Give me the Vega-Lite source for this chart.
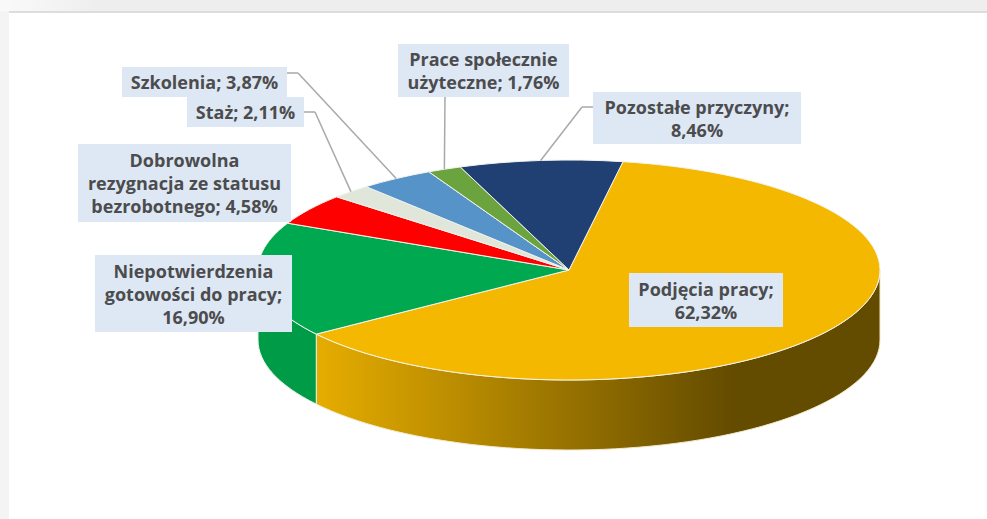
{
"$schema":"https://vega.github.io/schema/vega-lite/v6.json",
"width":987,"height":519,"padding":0,"autosize":{"type":"fit","contains":"padding"},
"background":"#ffffff",
"config":{"view":{"stroke":null}},
"data":{"values":[
{"order":0,"name":"Podjęcia pracy","value":62.32,"label":"Podjęcia pracy;\n62,32%"},
{"order":1,"name":"Niepotwierdzenia gotowości do pracy","value":16.90,"label":"Niepotwierdzenia\ngotowości do pracy;\n16,90%"},
{"order":2,"name":"Dobrowolna rezygnacja ze statusu bezrobotnego","value":4.58,"label":"Dobrowolna\nrezygnacja ze statusu\nbezrobotnego; 4,58%"},
{"order":3,"name":"Staż","value":2.11,"label":"Staż; 2,11%"},
{"order":4,"name":"Szkolenia","value":3.87,"label":"Szkolenia; 3,87%"},
{"order":5,"name":"Prace społecznie użyteczne","value":1.76,"label":"Prace społecznie\nużyteczne; 1,76%"},
{"order":6,"name":"Pozostałe przyczyny","value":8.46,"label":"Pozostałe przyczyny;\n8,46%"}
]},
"transform":[
{"stack":"value","offset":"zero","sort":[{"field":"order","order":"ascending"}],"as":["v0","v1"]},
{"calculate":"(10+datum.v0*3.6)*PI/180","as":"t0"},
{"calculate":"(10+datum.v1*3.6)*PI/180","as":"t1"},
{"calculate":"(datum.t0+datum.t1)/2","as":"tm"},
{"calculate":"'M0,0L'+round(311*sin(datum.t0)*100)/100+','+round(-110*cos(datum.t0)*100)/100+'A311,110,0,'+(datum.t1-datum.t0>PI?1:0)+',1,'+round(311*sin(datum.t1)*100)/100+','+round(-110*cos(datum.t1)*100)/100+'Z'","as":"wedge"},
{"calculate":"max(datum.t0,PI/2)","as":"c0"},
{"calculate":"min(datum.t1,3*PI/2)","as":"c1"},
{"calculate":"'M'+round(311*sin(datum.c0)*100)/100+','+round(-110*cos(datum.c0)*100)/100+'A311,110,0,0,1,'+round(311*sin(datum.c1)*100)/100+','+round(-110*cos(datum.c1)*100)/100+'L'+round(311*sin(datum.c1)*100)/100+','+round((70-110*cos(datum.c1))*100)/100+'A311,110,0,0,0,'+round(311*sin(datum.c0)*100)/100+','+round((70-110*cos(datum.c0))*100)/100+'Z'","as":"rim"},
{"calculate":"569+311*sin(datum.tm)","as":"ex"},
{"calculate":"270-110*cos(datum.tm)","as":"ey"},
{"calculate":"[[629,783,273,327],[95,292,255,332],[78,291,144,222],[187,304,97,127],[122,287,67,97],[398,569,44,97],[593,801,92,144]][datum.order]","as":"box"},
{"calculate":"datum.box[0]","as":"bx0"},
{"calculate":"datum.box[1]","as":"bx1"},
{"calculate":"datum.box[2]","as":"by0"},
{"calculate":"datum.box[3]","as":"by1"},
{"calculate":"(datum.bx0+datum.bx1)/2","as":"bxc"},
{"calculate":"(datum.by0+datum.by1)/2+2-(split(datum.label,'\\n').length-1)*11.5","as":"byc"},
{"calculate":"[null,null,null,[304,112,315],[287,73,298],[445,97,445],[593,107,582]][datum.order]","as":"lead"}
],
"layer":[
{"data":{"values":[{"k":"frame"}]},"mark":{"type":"rect","fill":"#f4f4f4"},
 "encoding":{"x":{"datum":0,"type":"quantitative","scale":{"domain":[0,987],"range":[0,987]},"axis":null},"x2":{"datum":987},"y":{"datum":0,"type":"quantitative","scale":{"domain":[0,519],"range":[0,519]},"axis":null},"y2":{"datum":519}}},
{"data":{"values":[{"k":"top"}]},"mark":{"type":"rect","fill":{"gradient":"linear","x1":0,"x2":1,"y1":0,"y2":0,"stops":[{"offset":0,"color":"#fafafa"},{"offset":0.1,"color":"#eeeeee"},{"offset":1,"color":"#eeeeee"}]}},
 "encoding":{"x":{"datum":0,"type":"quantitative","scale":{"domain":[0,987],"range":[0,987]},"axis":null},"x2":{"datum":987},"y":{"datum":0,"type":"quantitative","scale":{"domain":[0,519],"range":[0,519]},"axis":null},"y2":{"datum":11}}},
{"data":{"values":[{"k":"inner"}]},"mark":{"type":"rect","fill":"#ffffff","stroke":null},
 "encoding":{"x":{"datum":9,"type":"quantitative","scale":{"domain":[0,987],"range":[0,987]},"axis":null},"x2":{"datum":987},"y":{"datum":13,"type":"quantitative","scale":{"domain":[0,519],"range":[0,519]},"axis":null},"y2":{"datum":519}}},
{"data":{"values":[{"k":"line"}]},"mark":{"type":"rect","fill":"#dddddd"},
 "encoding":{"x":{"datum":9,"type":"quantitative","scale":{"domain":[0,987],"range":[0,987]},"axis":null},"x2":{"datum":987},"y":{"datum":11,"type":"quantitative","scale":{"domain":[0,519],"range":[0,519]},"axis":null},"y2":{"datum":13}}},
{"transform":[{"filter":"datum.order==0"}],
 "mark":{"type":"point","filled":true,"size":4,"opacity":1,"fill":{"gradient":"linear","x1":0,"x2":1,"y1":0,"y2":0,"stops":[{"offset":0,"color":"#e6ad00"},{"offset":0.74,"color":"#634b00"},{"offset":1,"color":"#634b00"}]},"stroke":"#f2e8c8","strokeWidth":1},
 "encoding":{"x":{"datum":569,"type":"quantitative","scale":{"domain":[0,987],"range":[0,987]},"axis":null},"y":{"datum":270,"type":"quantitative","scale":{"domain":[0,519],"range":[0,519]},"axis":null},"shape":{"field":"rim","type":"nominal","scale":null}}},
{"transform":[{"filter":"datum.order==1"}],
 "mark":{"type":"point","filled":true,"size":4,"opacity":1,"fill":"#009b46","stroke":"#e8f2e8","strokeWidth":1},
 "encoding":{"x":{"datum":569,"type":"quantitative","scale":{"domain":[0,987],"range":[0,987]},"axis":null},"y":{"datum":270,"type":"quantitative","scale":{"domain":[0,519],"range":[0,519]},"axis":null},"shape":{"field":"rim","type":"nominal","scale":null}}},
{"mark":{"type":"point","filled":true,"size":4,"opacity":1,"stroke":"#f4f4ee","strokeWidth":1},
 "encoding":{"x":{"datum":569,"type":"quantitative","scale":{"domain":[0,987],"range":[0,987]},"axis":null},"y":{"datum":270,"type":"quantitative","scale":{"domain":[0,519],"range":[0,519]},"axis":null},"shape":{"field":"wedge","type":"nominal","scale":null},
  "fill":{"field":"name","type":"nominal","legend":null,"scale":{"domain":["Podjęcia pracy","Niepotwierdzenia gotowości do pracy","Dobrowolna rezygnacja ze statusu bezrobotnego","Staż","Szkolenia","Prace społecznie użyteczne","Pozostałe przyczyny"],"range":["#f4b800","#00a94f","#ff0000","#e0e7da","#5593c9","#6ba43f","#203f73"]}}}},
{"transform":[{"filter":"datum.order>=3"},{"calculate":"datum.lead[0]","as":"lx"},{"calculate":"datum.lead[1]","as":"ly"},{"calculate":"datum.lead[2]","as":"lex"}],
 "mark":{"type":"rule","stroke":"#a9a9a9","strokeWidth":1.5},
 "encoding":{"x":{"field":"lx","type":"quantitative","scale":{"domain":[0,987],"range":[0,987]},"axis":null},"x2":{"field":"lex"},"y":{"field":"ly","type":"quantitative","scale":{"domain":[0,519],"range":[0,519]},"axis":null},"y2":{"field":"ly"}}},
{"transform":[{"filter":"datum.order>=3"},{"calculate":"datum.lead[1]","as":"ly"},{"calculate":"datum.lead[2]","as":"lex"}],
 "mark":{"type":"rule","stroke":"#a9a9a9","strokeWidth":1.5},
 "encoding":{"x":{"field":"lex","type":"quantitative","scale":{"domain":[0,987],"range":[0,987]},"axis":null},"x2":{"field":"ex"},"y":{"field":"ly","type":"quantitative","scale":{"domain":[0,519],"range":[0,519]},"axis":null},"y2":{"field":"ey"}}},
{"mark":{"type":"rect","fill":"#dde8f4"},
 "encoding":{"x":{"field":"bx0","type":"quantitative","scale":{"domain":[0,987],"range":[0,987]},"axis":null},"x2":{"field":"bx1"},"y":{"field":"by0","type":"quantitative","scale":{"domain":[0,519],"range":[0,519]},"axis":null},"y2":{"field":"by1"}}},
{"mark":{"type":"text","font":"Open Sans","fontWeight":"bold","fontSize":18,"lineHeight":23,"lineBreak":"\n","align":"center","baseline":"middle","fill":"#4c4c4e"},
 "encoding":{"x":{"field":"bxc","type":"quantitative","scale":{"domain":[0,987],"range":[0,987]},"axis":null},"y":{"field":"byc","type":"quantitative","scale":{"domain":[0,519],"range":[0,519]},"axis":null},"text":{"field":"label","type":"nominal"}}}
]
}
